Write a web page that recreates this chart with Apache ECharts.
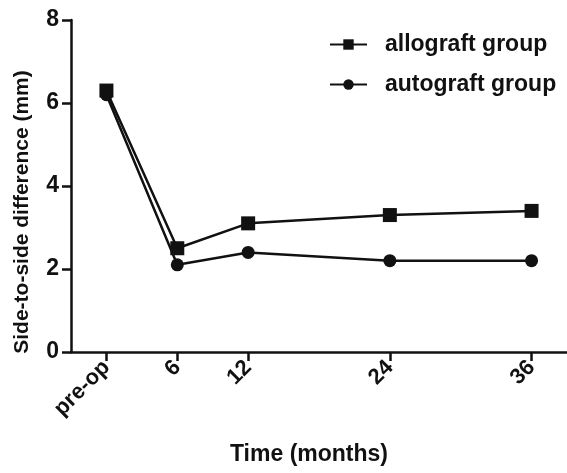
<!DOCTYPE html>
<html>
<head>
<meta charset="utf-8">
<script src="https://cdn.jsdelivr.net/npm/echarts@6/dist/echarts.min.js"></script>
<style>
html,body{margin:0;padding:0;background:#fff;}
#chart{width:567px;height:473px;}
</style>
</head>
<body>
<div id="chart"></div>
<script>
var timePoints = [0, 6, 12, 24, 36];
var tickLabels = ['pre-op', '6', '12', '24', '36'];
var allograft = [6.3, 2.5, 3.1, 3.3, 3.4];
var autograft = [6.2, 2.1, 2.4, 2.2, 2.2];

function pairs(vals) {
  return timePoints.map(function (t, i) { return [t, vals[i]]; });
}

var font = 'Liberation Sans, Arial, sans-serif';
var chart = echarts.init(document.getElementById('chart'));
chart.setOption({
  animation: false,
  backgroundColor: '#ffffff',
  grid: { left: 71, right: 0, top: 20, bottom: 121 },
  legend: {
    orient: 'vertical',
    left: 329,
    top: 33,
    padding: 0,
    itemWidth: 37,
    itemHeight: 13,
    itemGap: 17,
    textStyle: { fontFamily: font, fontWeight: 'bold', fontSize: 23, color: '#111', padding: [0, 0, 0, 13] },
    data: ['allograft group', 'autograft group']
  },
  xAxis: {
    type: 'value',
    min: -3,
    max: 39,
    name: 'Time (months)',
    nameLocation: 'middle',
    nameGap: 91,
    nameTextStyle: { fontFamily: font, fontWeight: 'bold', fontSize: 23, color: '#111', padding: [0, 20, 0, 0] },
    axisLine: { onZero: false, lineStyle: { color: '#111', width: 2.5 } },
    axisTick: { show: true, length: 9, customValues: timePoints, lineStyle: { color: '#111', width: 2.5 } },
    axisLabel: {
      customValues: timePoints,
      rotate: 45,
      margin: 12,
      fontFamily: font, fontWeight: 'bold', fontSize: 22, color: '#111',
      formatter: function (v) { var i = timePoints.indexOf(v); return i >= 0 ? tickLabels[i] : ''; }
    },
    splitLine: { show: false }
  },
  yAxis: {
    type: 'value',
    min: 0,
    max: 8,
    interval: 2,
    name: 'Side-to-side difference (mm)',
    nameLocation: 'middle',
    nameGap: 38,
    nameTextStyle: { fontFamily: font, fontWeight: 'bold', fontSize: 21, color: '#111', padding: [0, 52, 0, 0] },
    axisLine: { show: true, onZero: false, lineStyle: { color: '#111', width: 2.5 } },
    axisTick: { show: true, length: 9, lineStyle: { color: '#111', width: 2.5 } },
    axisLabel: { margin: 12, fontFamily: font, fontWeight: 'bold', fontSize: 23, color: '#111' },
    splitLine: { show: false }
  },
  series: [
    {
      name: 'allograft group',
      type: 'line',
      data: pairs(allograft),
      symbol: 'rect',
      symbolSize: 14,
      itemStyle: { color: '#111' },
      lineStyle: { color: '#111', width: 2.5 }
    },
    {
      name: 'autograft group',
      type: 'line',
      data: pairs(autograft),
      symbol: 'circle',
      symbolSize: 13,
      itemStyle: { color: '#111' },
      lineStyle: { color: '#111', width: 2.5 }
    }
  ]
});
</script>
</body>
</html>
